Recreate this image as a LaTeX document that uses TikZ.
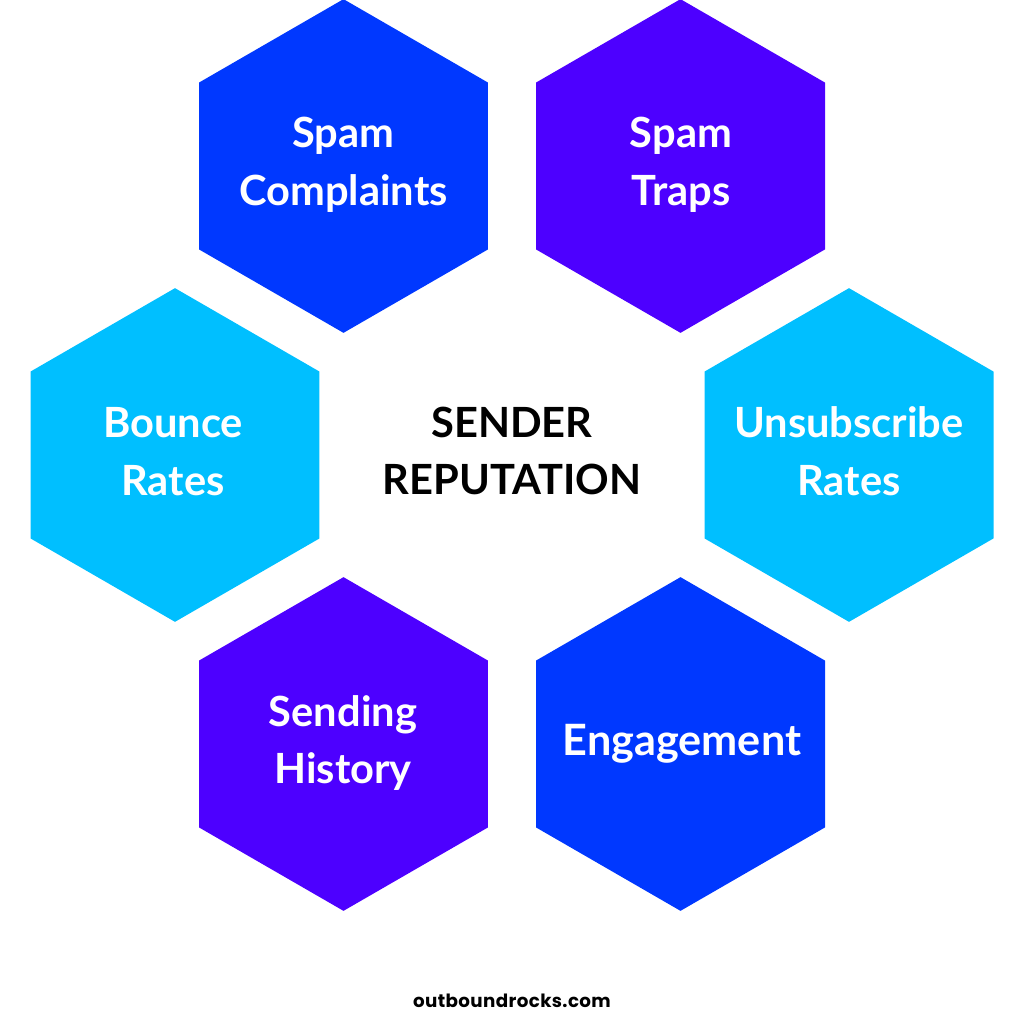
\documentclass[tikz,border=0pt]{standalone}
\usepackage{fontspec}
\setmainfont{Lato}
\newfontfamily\sitefont[LetterSpace=2]{Poppins}
\usepackage{xcolor}
\usetikzlibrary{shapes.geometric}
\definecolor{hexblue}{HTML}{0038FF}
\definecolor{hexviolet}{HTML}{4D00FF}
\definecolor{hexcyan}{HTML}{00BFFF}

\begin{document}
\begin{tikzpicture}[
    x=0.025cm, y=-0.025cm,
    factor/.style={regular polygon, regular polygon sides=6, minimum size=8.34cm, inner sep=0pt, shape border rotate=30},
    factortext/.style={align=center, text=white, font=\fontsize{29.6}{41}\selectfont\bfseries},
    title/.style={align=center, text=black, font=\fontsize{29.6}{41}\selectfont\bfseries}
]
    \useasboundingbox (0,0) rectangle (1024,1024);
    \node[factor, fill=hexblue] (complaints) at (343.5,166) {};
    \node[factor, fill=hexviolet] (traps) at (680.5,166) {};
    \node[factor, fill=hexcyan] (bounce) at (175,455) {};
    \node[factor, fill=hexcyan] (unsubscribe) at (849,455) {};
    \node[factor, fill=hexviolet] (history) at (343.5,744) {};
    \node[factor, fill=hexblue] (engagement) at (680.5,744) {};
    \node[factortext] (complaintstext) at (343.5,164.5) {Spam\\Complaints};
    \node[factortext] (trapstext) at (681,164.5) {Spam\\Traps};
    \node[factortext] (bouncetext) at (173,451.5) {Bounce\\Rates};
    \node[factortext] (unsubscribetext) at (849,451.5) {Unsubscribe\\Rates};
    \node[factortext] (historytext) at (343,743) {Sending\\History};
    \node[factortext, font=\fontsize{30.7}{41}\selectfont\bfseries] (engagementtext) at (682,744) {Engagement};
    \node[title] (reputation) at (512,451) {SENDER\\REPUTATION};
    \node[font=\fontsize{13}{18}\selectfont\sitefont\bfseries] (site) at (512,1000.5) {outboundrocks.com};
\end{tikzpicture}
\end{document}
